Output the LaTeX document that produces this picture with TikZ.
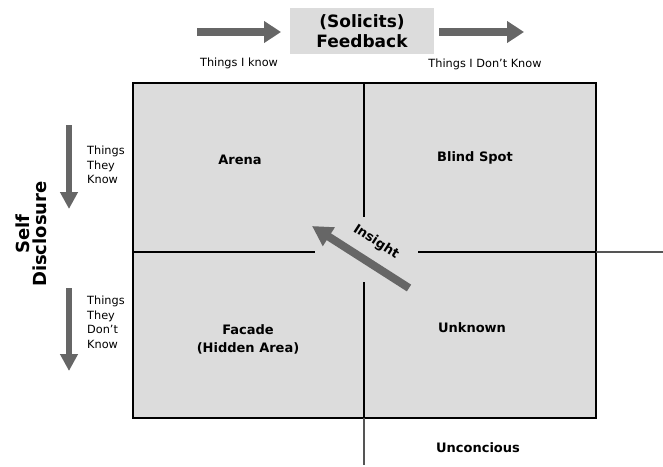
\documentclass[tikz,border=0pt]{standalone}
\usepackage{fontspec}
\setmainfont{DejaVu Sans}
\usetikzlibrary{arrows.meta}
\definecolor{quad}{HTML}{DCDCDC}
\definecolor{arr}{HTML}{666666}
\definecolor{ext}{HTML}{555555}
\begin{document}
\begin{tikzpicture}[x=1pt,y=-1pt,
  toparrow/.style={draw=arr, line width=7.5pt, -{Triangle[width=21pt,length=17pt]}},
  sidearrow/.style={draw=arr, line width=6pt, -{Triangle[width=17pt,length=17pt]}},
  insarrow/.style={draw=arr, line width=8pt, -{Triangle[width=21pt,length=20pt]}},
  small/.style={font=\fontsize{11.3}{14.5}\selectfont, inner sep=0pt},
  quadlabel/.style={font=\fontsize{13}{18}\selectfont\bfseries, align=center, inner sep=0pt},
  divider/.style={draw=black, line width=1.2pt},
  extline/.style={draw=ext, line width=1.4pt}]
\useasboundingbox (0,0) rectangle (663,466);
% main window
\node (win) [draw=black, line width=1.6pt, fill=quad, minimum width=463pt, minimum height=335pt, inner sep=0pt] at (364.5,250.5) {};
% dividers
\coordinate (vtop) at (364,83);
\coordinate (vgapa) at (364,217);
\coordinate (vgapb) at (364,282);
\coordinate (vbot) at (364,418);
\coordinate (vend) at (364,465);
\coordinate (hleft) at (133,252);
\coordinate (hgapa) at (315,252);
\coordinate (hgapb) at (418,252);
\coordinate (hright) at (596,252);
\coordinate (hend) at (663,252);
\draw[divider] (vtop) -- (vgapa);
\draw[divider] (vgapb) -- (vbot);
\draw[extline] (vbot) -- (vend);
\draw[divider] (hleft) -- (hgapa);
\draw[divider] (hgapb) -- (hright);
\draw[extline] (hright) -- (hend);
% top
\node (fb) [fill=quad, minimum width=144pt, minimum height=46pt, align=center, inner sep=0pt,
  font=\fontsize{17}{20}\selectfont\bfseries] at (362,31) {(Solicits)\\Feedback};
\coordinate (ta1) at (197,32);
\coordinate (ta2) at (281,32);
\coordinate (tb1) at (439,32);
\coordinate (tb2) at (524,32);
\draw[toparrow] (ta1) -- (ta2);
\draw[toparrow] (tb1) -- (tb2);
\node (tik) [small] at (239,63) {Things I know};
\node (tidk) [small] at (485,64) {Things I Don’t Know};
% left
\coordinate (la1) at (69,125);
\coordinate (la2) at (69,209);
\coordinate (lb1) at (69,288);
\coordinate (lb2) at (69,371);
\draw[sidearrow] (la1) -- (la2);
\draw[sidearrow] (lb1) -- (lb2);
\node (ttk) [small, align=left, anchor=north west] at (87,146) {Things\\They\\Know};
\node (ttdk) [small, align=left, anchor=north west] at (87,296) {Things\\They\\Don’t\\Know};
\node (sd) [rotate=90, align=center, inner sep=0pt, font=\fontsize{18}{17}\selectfont\bfseries] at (31,234) {Self\\Disclosure};
% quadrant labels
\node (arena) [quadlabel] at (240,160) {Arena};
\node (blind) [quadlabel] at (475,158) {Blind Spot};
\node (facade) [quadlabel] at (248,339) {Facade\\(Hidden Area)};
\node (unknown) [quadlabel] at (472,328) {Unknown};
\node (uncon) [quadlabel] at (478,448) {Unconcious};
% insight
\coordinate (ia1) at (409,288);
\coordinate (ia2) at (312,226);
\draw[insarrow] (ia1) -- (ia2);
\node (insight) [quadlabel, rotate=-33] at (376,242) {Insight};
\end{tikzpicture}
\end{document}
